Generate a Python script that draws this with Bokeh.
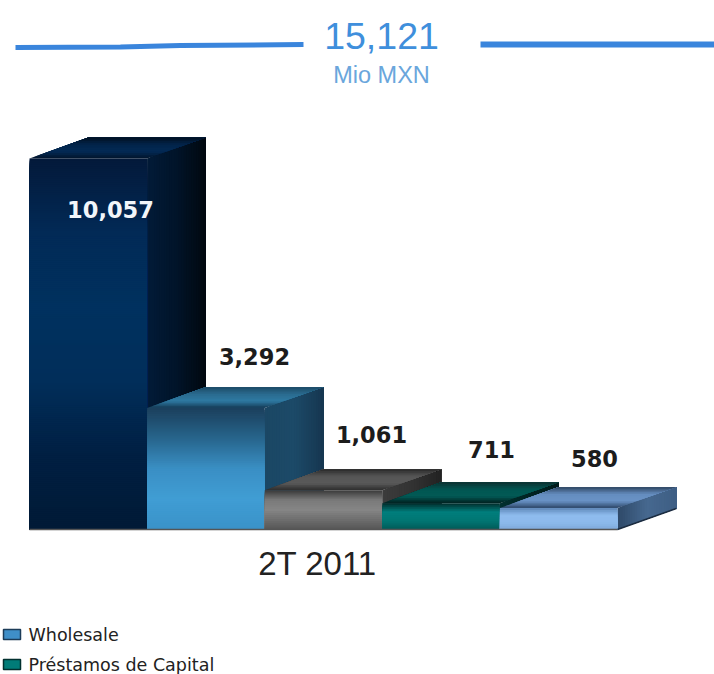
from bokeh.plotting import figure
from bokeh.models import Range1d
from bokeh.core.properties import value
from bokeh.embed import file_html
from bokeh.resources import INLINE

# ---- data ----
values = [10057, 3292, 1061, 711, 580]
value_labels = ["10,057", "3,292", "1,061", "711", "580"]
category_label = "2T 2011"
total_label = "15,121"
unit_label = "Mio MXN"
legend_names = ["Wholesale", "Préstamos de Capital"]

# ---- styling: (front top->bottom, side front->back, top front->back) ----
bar_styles = [
    (["#03193a", "#022a56", "#00315f", "#012e5a", "#011f42", "#011a36"],
     ["#021b38", "#011429", "#01080f"], ["#02142b", "#032a55", "#02244a", "#010f20"]),
    (["#1b3f5c", "#27658c", "#3a8fc4", "#409dd4", "#3a92c8"],
     ["#1b4764", "#1c4a68", "#163650"], ["#153a55", "#2e7aa3", "#2a6a8e", "#1c4a66"]),
    (["#3a3a3a", "#7a7a7a", "#858585", "#6e6e6e", "#555555"],
     ["#3c3c3c", "#333333", "#222222"], ["#2c2c2c", "#5a5a5a", "#555555", "#2a2a2a"]),
    (["#012b2b", "#017e7c", "#017673", "#005a58"],
     ["#02302f", "#012322", "#011a1a"], ["#011e1e", "#025a56", "#015651", "#0d2f30"]),
    (["#5f88b8", "#8fbcee", "#8dbaec", "#7ea9da"],
     ["#2e4968", "#46688f", "#3e5e84"], ["#2b4566", "#6a93c6", "#648cbe", "#2e4560"]),
]
label_colors = ["#f2f6fa", "#1c1c1c", "#1c1c1c", "#1c1c1c", "#1c1c1c"]
legend_colors = [("#3f8fc8", "#1c3c58"), ("#017c78", "#02302f")]

# ---- scales: bar slot width and px per value unit ----
X0_PX, SLOT_PX, Y0_PX, UNIT_PX = 29.0, 117.6, 529.0, 0.0369
DEPTH_X, DEPTH_Y = 0.5, 21.0 / UNIT_PX


def px_x(px):
    return (px - X0_PX) / SLOT_PX


def px_y(py):
    return (Y0_PX - py) / UNIT_PX


p = figure(width=714, height=674, output_backend="svg", toolbar_location=None,
           x_range=Range1d(px_x(0), px_x(714)), y_range=Range1d(px_y(674), px_y(0)),
           x_axis_location=None, y_axis_location=None, min_border=0,
           outline_line_color=None, background_fill_color="white",
           border_fill_color="white")
p.grid.visible = False


def lerp(c1, c2, t):
    a = [int(c1[i:i + 2], 16) for i in (1, 3, 5)]
    b = [int(c2[i:i + 2], 16) for i in (1, 3, 5)]
    return "#%02x%02x%02x" % tuple(round(u + (v - u) * t) for u, v in zip(a, b))


def stop_color(stops, t):
    f = t * (len(stops) - 1)
    i = min(int(f), len(stops) - 2)
    return lerp(stops[i], stops[i + 1], f - i)


def shade(a, b, c, d, stops, n):
    """Fill quad a-b-c-d with slices from edge a-b to d-c; each slice runs on to
    the far edge and the next one paints over it, so no seams show."""
    xs, ys, cols = [], [], []
    for k in range(n):
        u0 = k / n
        pt = lambda s, e, u: (s[0] + (e[0] - s[0]) * u, s[1] + (e[1] - s[1]) * u)
        q = [pt(a, d, u0), pt(b, c, u0), c, d]
        xs.append([v[0] for v in q])
        ys.append([v[1] for v in q])
        cols.append(stop_color(stops, (k + 0.5) / n))
    p.patches(xs, ys, fill_color=cols, line_color=None)


for i, v in enumerate(values):
    front_stops, side_stops, top_stops = bar_styles[i]
    l, r = float(i), float(i + 1)
    fl_t, fr_t, fr_b, fl_b = (l, v), (r, v), (r, 0), (l, 0)
    br_t, br_b, bl_t = (r + DEPTH_X, v + DEPTH_Y), (r + DEPTH_X, DEPTH_Y), (l + DEPTH_X, v + DEPTH_Y)
    shade(fr_t, fr_b, br_b, br_t, side_stops, 24)
    shade(fl_t, fr_t, br_t, bl_t, top_stops, 12)
    shade(fl_t, fr_t, fr_b, fl_b, front_stops, max(12, int(v * UNIT_PX / 2)))

# base line under the bars
p.line([0, len(values)], [0, 0], line_color="#555555", line_width=1.5)
p.line([len(values), len(values) + DEPTH_X], [0, DEPTH_Y], line_color="#1c2c40", line_width=1.5)

# value labels
label_px = [(110, 209), (254, 356), (371, 434), (491, 449), (594, 458)]
for (lx, ly), txt, col in zip(label_px, value_labels, label_colors):
    p.text([px_x(lx)], [px_y(ly)], text=[txt], text_color=col,
           text_font=value("DejaVu Sans"), text_font_style="bold", text_font_size="22.5px",
           text_align="center", text_baseline="middle")

# category label
p.text([px_x(317)], [px_y(563)], text=[category_label], text_color="#222222",
       text_font=value("Liberation Sans"), text_font_size="33px",
       text_align="center", text_baseline="middle")

# header with total
p.line([px_x(15), px_x(120), px_x(180), px_x(303)], [px_y(47), px_y(46.5), px_y(45), px_y(44)],
       line_color="#3a85dc", line_width=5)
p.line([px_x(480), px_x(714)], [px_y(44), px_y(44)], line_color="#3a85dc", line_width=6)
p.text([px_x(381)], [px_y(35)], text=[total_label], text_color="#3f8fdc",
       text_font=value("Liberation Sans"), text_font_size="37.5px",
       text_align="center", text_baseline="middle")
p.text([px_x(381)], [px_y(74)], text=[unit_label], text_color="#6aa6dc",
       text_font=value("Liberation Sans"), text_font_size="23.5px",
       text_align="center", text_baseline="middle")

# legend
for name, (fill, edge), y in zip(legend_names, legend_colors, (634, 664)):
    p.quad(left=[px_x(3)], right=[px_x(20)], top=[px_y(y - 5)], bottom=[px_y(y + 5)],
           fill_color=fill, line_color=edge, line_width=1.5)
    p.text([px_x(28)], [px_y(y)], text=[name], text_color="#222222",
           text_font=value("DejaVu Sans"), text_font_size="17.5px",
           text_align="left", text_baseline="middle")

open("out.html", "w").write(file_html(p, INLINE))
